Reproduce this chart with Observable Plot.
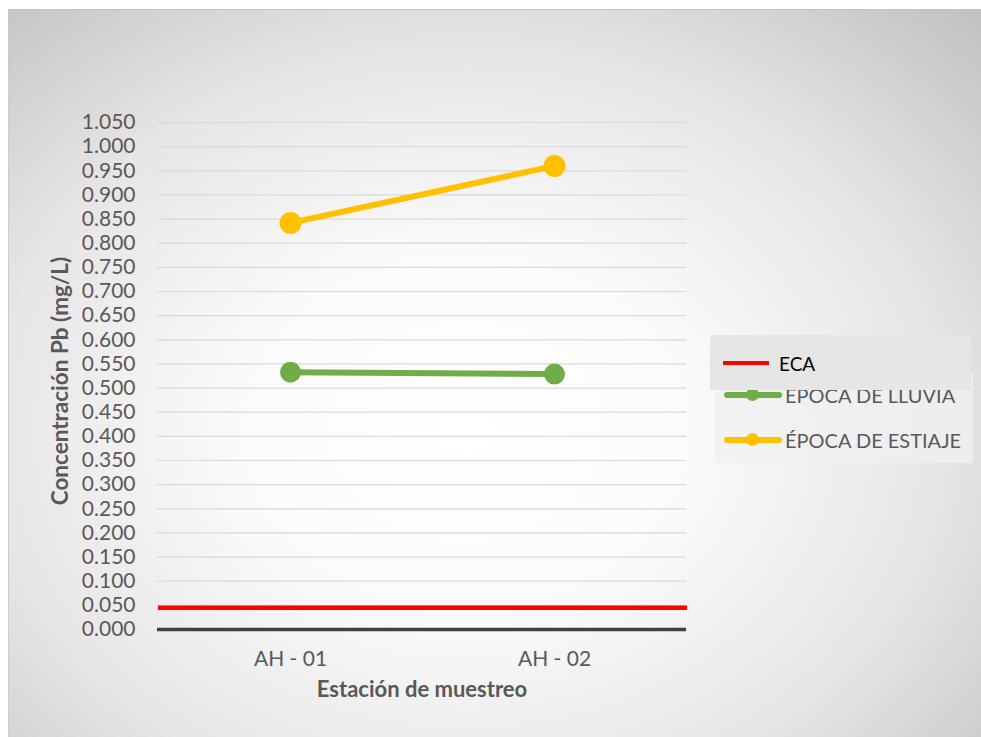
<!DOCTYPE html>
<html>
<head>
<meta charset="utf-8">
<script src="https://cdn.jsdelivr.net/npm/d3@7"></script>
<script src="https://cdn.jsdelivr.net/npm/@observablehq/plot@0.6"></script>
<style>
  html, body { margin: 0; padding: 0; background: #ffffff; }
  #page { position: relative; width: 981px; height: 737px; overflow: hidden; font-family: Lato, sans-serif; }
  #bg { position: absolute; left: 8px; top: 9px; width: 973px; height: 728px;
        background: radial-gradient(ellipse 75% 80% at 47% 58%, #ffffff 0%, #fbfbfb 30%, #e6e6e6 65%, #c2c2c2 100%);
        border-top: 1px solid #c4c4c4; border-left: 1px solid #cccccc; box-sizing: border-box; }
  #chart { position: absolute; left: 0; top: 0; }
  .legbox { position: absolute; box-sizing: border-box; }
  .legtext { position: absolute; font-size: 20px; color: #595959; white-space: nowrap; line-height: 1; }
  .swline { position: absolute; height: 6px; border-radius: 3px; }
  .swdot { position: absolute; width: 13px; height: 13px; border-radius: 50%; }
</style>
</head>
<body>
<div id="page">
  <div id="bg"></div>
  <div id="chart"></div>
  <div id="legend"></div>
</div>
<script>
// ---- data ----
const stations = ["AH - 01", "AH - 02"];
const lluvia = [0.533, 0.529];
const estiaje = [0.842, 0.960];
const eca = 0.045;
const yTicks = [0.000, 0.050, 0.100, 0.150, 0.200, 0.250, 0.300, 0.350, 0.400, 0.450, 0.500,
                0.550, 0.600, 0.650, 0.700, 0.750, 0.800, 0.850, 0.900, 0.950, 1.000, 1.050];
const seriesNames = ["ECA", "ÉPOCA DE LLUVIA", "ÉPOCA DE ESTIAJE"];
const seriesColors = ["#ff0000", "#70ad47", "#ffc000"];
const yTitle = "Concentración Pb (mg/L)";
const xTitle = "Estación de muestreo";

const lluviaData = stations.map((s, i) => ({station: s, value: lluvia[i]}));
const estiajeData = stations.map((s, i) => ({station: s, value: estiaje[i]}));

const font = "Lato, sans-serif";

const chart = Plot.plot({
  width: 981,
  height: 737,
  marginLeft: 157,
  marginRight: 295,
  marginTop: 122,
  marginBottom: 108,
  style: {background: "transparent", fontFamily: font, overflow: "visible"},
  x: {type: "point", domain: stations, padding: 0.5},
  y: {domain: [0, 1.05]},
  marks: [
    Plot.ruleY(yTicks.filter(d => d > 0), {stroke: "#d9d9d9", strokeWidth: 1.2}),
    Plot.ruleY([eca], {stroke: "#ff0000", strokeWidth: 4.5, dx: 1}),
    Plot.ruleY([0], {stroke: "#404040", strokeWidth: 3.5}),
    Plot.line(lluviaData, {x: "station", y: "value", stroke: seriesColors[1], strokeWidth: 6}),
    Plot.dot(lluviaData, {x: "station", y: "value", fill: seriesColors[1], r: 10.5}),
    Plot.line(estiajeData, {x: "station", y: "value", stroke: seriesColors[2], strokeWidth: 6}),
    Plot.dot(estiajeData, {x: "station", y: "value", fill: seriesColors[2], r: 11}),
    Plot.axisY({ticks: yTicks, tickSize: 0, tickPadding: 22, tickFormat: d3.format(".3f"),
                fontSize: 21, label: null, color: "#595959"}),
    Plot.axisX({tickSize: 0, tickPadding: 22, fontSize: 21, label: null, color: "#595959"}),
    Plot.text([yTitle], {frameAnchor: "left", dx: -97, dy: 5, rotate: -90, textAnchor: "middle",
                         fontWeight: "bold", fontSize: 22.5, fill: "#595959"}),
    Plot.text([xTitle], {frameAnchor: "bottom", dy: 67, fontWeight: "bold", fontSize: 22, fill: "#595959"})
  ]
});
document.getElementById("chart").appendChild(chart);

// ---- legend (HTML) ----
const leg = document.getElementById("legend");
function add(html) { leg.insertAdjacentHTML("beforeend", html); }
// lower box (lluvia & estiaje)
add(`<div class="legbox" style="left:715px;top:373px;width:258px;height:90px;background:rgba(240,240,240,0.75);"></div>`);
// lluvia
add(`<div class="swline" style="left:724px;top:392px;width:58px;background:${seriesColors[1]}"></div>`);
add(`<div class="swdot" style="left:746px;top:388px;background:${seriesColors[1]}"></div>`);
add(`<div class="legtext" style="left:785px;top:385px;">${seriesNames[1]}</div>`);
// estiaje
add(`<div class="swline" style="left:724px;top:437px;width:58px;background:${seriesColors[2]}"></div>`);
add(`<div class="swdot" style="left:746px;top:433px;background:${seriesColors[2]}"></div>`);
add(`<div class="legtext" style="left:785px;top:430px;">${seriesNames[2]}</div>`);
// ECA box on top
add(`<div class="legbox" style="left:710px;top:335px;width:261px;height:55px;background:#e6e6e6;"></div>`);
add(`<div class="swline" style="left:723px;top:361px;width:46px;height:4px;border-radius:0;background:${seriesColors[0]}"></div>`);
add(`<div class="legtext" style="left:779px;top:354px;color:#000;font-size:19px;">${seriesNames[0]}</div>`);
</script>
</body>
</html>
